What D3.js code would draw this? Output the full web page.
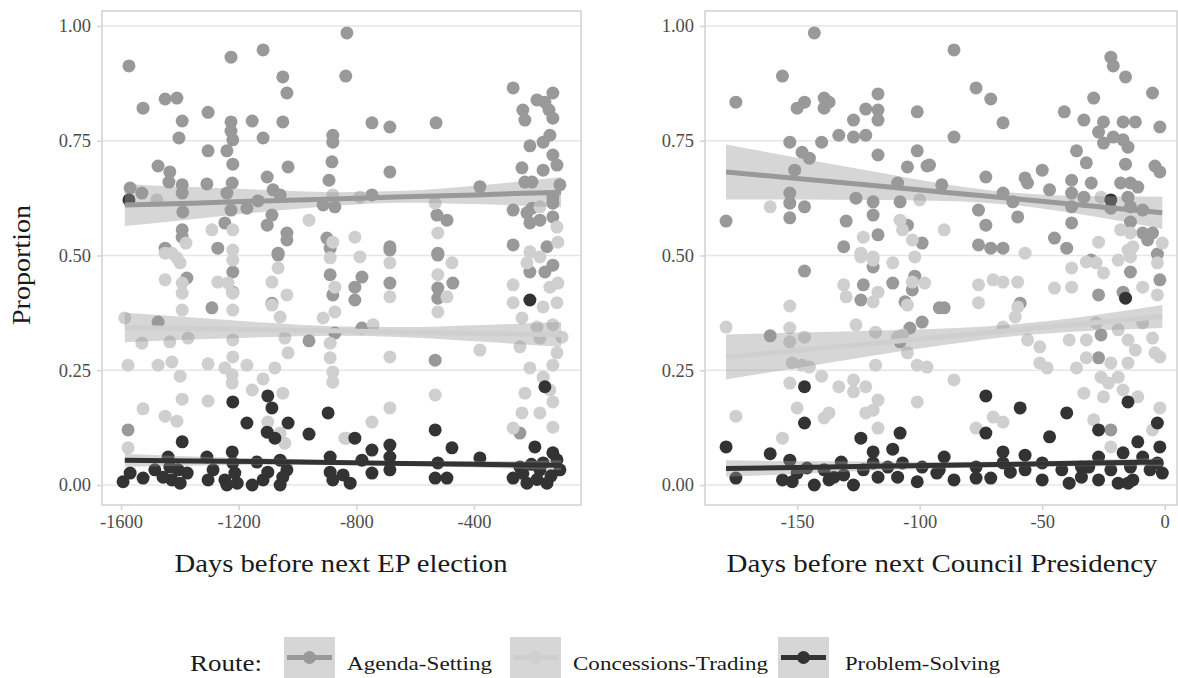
<!DOCTYPE html>
<html><head><meta charset="utf-8">
<script src="https://cdn.jsdelivr.net/npm/d3@7"></script>
<style>body{margin:0;background:#fff}svg{display:block}text{font-family:"Liberation Serif","DejaVu Serif",serif}</style>
</head><body><svg id="c" width="1178" height="678"></svg>
<script>
// ---------- data ----------
const routes = ["Agenda-Setting","Concessions-Trading","Problem-Solving"];
const yTicks = [0,0.25,0.5,0.75,1];
const yTickLabels = ["0.00","0.25","0.50","0.75","1.00"];
const epTicks = [-1600,-1200,-800,-400];
const epTickLabels = ["-1600","-1200","-800","-400"];
const cpTicks = [-150,-100,-50,0];
const cpTickLabels = ["-150","-100","-50","0"];

const epAgenda = [[-1573,0.913],[-1525,0.821],[-1450,0.841],[-1410,0.843],[-1226,0.932],[-1117,0.948],[-1050,0.889],[-1036,0.854],[-1304,0.812],[-1392,0.793],[-1403,0.756],[-1226,0.791],[-1226,0.771],[-1220,0.752],[-1154,0.793],[-1050,0.791],[-1117,0.756],[-1304,0.728],[-1240,0.728],[-1220,0.699],[-1474,0.695],[-1434,0.682],[-1437,0.660],[-1392,0.654],[-1392,0.636],[-1308,0.656],[-1222,0.658],[-1240,0.636],[-1103,0.671],[-1032,0.693],[-1083,0.643],[-1059,0.632],[-1134,0.619],[-1172,0.603],[-1569,0.647],[-1529,0.636],[-1390,0.595],[-1226,0.599],[-1087,0.588],[-1103,0.566],[-1392,0.556],[-1392,0.540],[-1247,0.571],[-1036,0.549],[-1036,0.534],[-1450,0.516],[-1271,0.516],[-1066,0.505],[-880,0.762],[-880,0.747],[-883,0.704],[-893,0.664],[-913,0.610],[-873,0.606],[-900,0.538],[-889,0.516],[-832,0.985],[-836,0.891],[-747,0.789],[-686,0.780],[-529,0.789],[-686,0.682],[-380,0.650],[-747,0.632],[-526,0.588],[-492,0.577],[-686,0.519],[-523,0.505],[-267,0.523],[-267,0.865],[-234,0.817],[-227,0.795],[-186,0.839],[-159,0.834],[-132,0.854],[-145,0.817],[-132,0.799],[-210,0.739],[-165,0.747],[-142,0.762],[-132,0.719],[-118,0.697],[-165,0.686],[-237,0.691],[-227,0.660],[-203,0.660],[-108,0.654],[-132,0.627],[-132,0.614],[-267,0.599],[-220,0.593],[-203,0.603],[-210,0.571],[-176,0.577],[-132,0.584],[-152,0.519],[-1066,0.501],[-889,0.458],[-880,0.414],[-1376,0.451],[-1220,0.464],[-1220,0.420],[-1087,0.396],[-1291,0.386],[-1474,0.355],[-961,0.314],[-1576,0.120],[-873,0.331],[-781,0.453],[-805,0.431],[-805,0.403],[-686,0.512],[-686,0.440],[-523,0.501],[-523,0.429],[-523,0.407],[-472,0.440],[-781,0.342],[-532,0.272],[-210,0.464],[-159,0.464],[-132,0.479],[-244,0.113]];
const epConc = [[-1478,0.621],[-961,0.577],[-1291,0.556],[-1220,0.556],[-1379,0.527],[-1220,0.512],[-880,0.632],[-880,0.529],[-1427,0.505],[-805,0.540],[-788,0.627],[-523,0.549],[-532,0.614],[-176,0.606],[-118,0.562],[-115,0.529],[-210,0.508],[-1450,0.505],[-1410,0.495],[-1399,0.484],[-1450,0.447],[-1392,0.440],[-1392,0.418],[-1271,0.442],[-1236,0.440],[-1220,0.490],[-1220,0.418],[-1087,0.442],[-1066,0.473],[-1087,0.392],[-1036,0.414],[-889,0.495],[-873,0.431],[-873,0.377],[-913,0.364],[-1392,0.381],[-1220,0.381],[-1059,0.366],[-1587,0.364],[-1529,0.309],[-1434,0.312],[-1372,0.320],[-1220,0.316],[-1043,0.320],[-889,0.309],[-1220,0.279],[-1032,0.288],[-889,0.277],[-1576,0.261],[-1474,0.261],[-1427,0.268],[-1304,0.264],[-1247,0.255],[-1172,0.261],[-1077,0.255],[-880,0.246],[-880,0.224],[-1399,0.237],[-1222,0.240],[-1222,0.222],[-1117,0.231],[-1154,0.207],[-1392,0.187],[-1304,0.183],[-1050,0.200],[-1525,0.166],[-1450,0.150],[-1410,0.139],[-1101,0.137],[-1059,0.113],[-1043,0.091],[-1576,0.081],[-832,0.102],[-788,0.497],[-686,0.484],[-686,0.410],[-523,0.458],[-475,0.484],[-492,0.410],[-523,0.377],[-743,0.349],[-686,0.279],[-380,0.294],[-532,0.196],[-686,0.168],[-747,0.137],[-839,0.102],[-267,0.436],[-267,0.397],[-220,0.484],[-176,0.497],[-142,0.431],[-115,0.440],[-118,0.397],[-165,0.388],[-237,0.364],[-186,0.344],[-132,0.349],[-101,0.322],[-244,0.301],[-176,0.320],[-118,0.288],[-210,0.255],[-132,0.261],[-165,0.235],[-142,0.207],[-227,0.200],[-132,0.181],[-237,0.157],[-176,0.157],[-132,0.126],[-267,0.124]];
const epProb = [[-1573,0.621],[-1220,0.181],[-1101,0.194],[-1087,0.168],[-1172,0.135],[-1032,0.135],[-896,0.157],[-1103,0.115],[-1077,0.102],[-961,0.111],[-1392,0.094],[-1593,0.007],[-1569,0.026],[-1525,0.015],[-1485,0.033],[-1457,0.017],[-1440,0.061],[-1434,0.039],[-1427,0.011],[-1406,0.033],[-1399,0.004],[-1375,0.026],[-1308,0.061],[-1304,0.011],[-1287,0.033],[-1247,0.011],[-1240,0.0],[-1222,0.072],[-1220,0.048],[-1213,0.026],[-1205,0.004],[-1154,0.0],[-1138,0.050],[-1117,0.011],[-1101,0.028],[-1059,0.054],[-1050,0.017],[-1036,0.033],[-1059,0.0],[-889,0.061],[-889,0.028],[-880,0.011],[-845,0.022],[-210,0.403],[-159,0.214],[-805,0.102],[-532,0.120],[-475,0.081],[-747,0.076],[-686,0.087],[-821,0.004],[-781,0.054],[-747,0.026],[-686,0.061],[-686,0.033],[-523,0.048],[-532,0.015],[-492,0.015],[-380,0.059],[-267,0.015],[-244,0.039],[-220,0.004],[-193,0.083],[-176,0.033],[-152,0.004],[-132,0.070],[-108,0.033],[-165,0.048],[-234,0.025],[-205,0.045],[-138,0.020],[-118,0.055],[-186,0.012]];

const cpAgenda = [[-143,0.985],[-156,0.891],[-175,0.834],[-150,0.821],[-147,0.834],[-139,0.843],[-137,0.834],[-139,0.821],[-117,0.852],[-122,0.819],[-117,0.817],[-117,0.795],[-127,0.795],[-133,0.762],[-127,0.758],[-122,0.762],[-101,0.813],[-153,0.747],[-140,0.747],[-148,0.725],[-145,0.712],[-117,0.719],[-101,0.728],[-105,0.693],[-97,0.695],[-151,0.686],[-109,0.658],[-153,0.636],[-153,0.614],[-147,0.606],[-153,0.582],[-126,0.625],[-119,0.617],[-119,0.588],[-108,0.617],[-179,0.575],[-130,0.575],[-117,0.545],[-131,0.519],[-99,0.527],[-105,0.566],[-86,0.948],[-77,0.865],[-71,0.841],[-66,0.789],[-86,0.758],[-96,0.697],[-91,0.654],[-73,0.671],[-57,0.669],[-56,0.658],[-50,0.686],[-47,0.643],[-66,0.636],[-62,0.617],[-60,0.584],[-76,0.599],[-73,0.566],[-76,0.523],[-71,0.516],[-66,0.516],[-45,0.538],[-40,0.516],[-41,0.813],[-29,0.843],[-33,0.795],[-22,0.932],[-21,0.913],[-16,0.889],[-5,0.854],[-2,0.780],[-17,0.791],[-12,0.791],[-25,0.791],[-27,0.769],[-25,0.745],[-21,0.758],[-17,0.752],[-15,0.736],[-36,0.728],[-32,0.702],[-16,0.699],[-4,0.695],[-2,0.682],[-38,0.664],[-38,0.636],[-30,0.658],[-33,0.627],[-18,0.658],[-14,0.658],[-11,0.649],[-15,0.627],[-14,0.606],[-38,0.606],[-38,0.571],[-22,0.603],[-9,0.599],[-14,0.573],[-9,0.549],[-5,0.549],[-7,0.534],[-147,0.466],[-123,0.436],[-124,0.403],[-119,0.475],[-111,0.440],[-102,0.455],[-103,0.425],[-106,0.399],[-161,0.325],[-104,0.342],[-99,0.355],[-108,0.312],[-92,0.386],[-90,0.386],[-59,0.396],[-27,0.414],[-27,0.277],[-26,0.327],[-17,0.420],[-14,0.464],[-2,0.447],[-22,0.120],[-3,0.503],[-30,0.490]];
const cpConc = [[-161,0.606],[-108,0.577],[-107,0.556],[-103,0.534],[-123,0.540],[-100,0.621],[-124,0.505],[-119,0.497],[-90,0.556],[-57,0.505],[-27,0.529],[-18,0.556],[-14,0.549],[-15,0.512],[-13,0.519],[-1,0.527],[-26,0.627],[-179,0.344],[-153,0.390],[-153,0.342],[-147,0.322],[-153,0.312],[-152,0.266],[-148,0.261],[-145,0.257],[-131,0.436],[-130,0.410],[-124,0.497],[-119,0.490],[-119,0.399],[-117,0.420],[-111,0.484],[-102,0.497],[-126,0.349],[-118,0.333],[-107,0.327],[-105,0.288],[-109,0.322],[-103,0.442],[-98,0.440],[-105,0.392],[-118,0.261],[-101,0.261],[-97,0.257],[-140,0.237],[-153,0.222],[-133,0.214],[-127,0.229],[-127,0.203],[-122,0.214],[-117,0.185],[-119,0.163],[-122,0.157],[-101,0.181],[-175,0.150],[-150,0.168],[-139,0.146],[-137,0.157],[-117,0.124],[-156,0.102],[-76,0.436],[-70,0.447],[-66,0.442],[-60,0.442],[-76,0.397],[-60,0.388],[-61,0.366],[-45,0.429],[-38,0.431],[-38,0.473],[-32,0.486],[-28,0.484],[-25,0.462],[-19,0.490],[-14,0.497],[-3,0.484],[-9,0.431],[-3,0.414],[-66,0.344],[-56,0.316],[-51,0.301],[-39,0.316],[-32,0.316],[-28,0.353],[-19,0.338],[-15,0.316],[-9,0.353],[-5,0.320],[-51,0.266],[-48,0.255],[-36,0.255],[-32,0.277],[-22,0.266],[-15,0.266],[-12,0.294],[-4,0.288],[-2,0.279],[-86,0.229],[-26,0.235],[-23,0.222],[-19,0.235],[-17,0.207],[-33,0.200],[-25,0.192],[-11,0.192],[-2,0.168],[-77,0.124],[-70,0.148],[-66,0.137],[-29,0.142],[-22,0.083],[-5,0.120]];
const cpProb = [[-22,0.621],[-147,0.214],[-147,0.135],[-179,0.083],[-161,0.068],[-124,0.102],[-108,0.113],[-119,0.072],[-111,0.078],[-175,0.015],[-156,0.011],[-153,0.054],[-150,0.026],[-146,0.037],[-143,0.0],[-137,0.011],[-132,0.050],[-127,0.0],[-131,0.022],[-123,0.033],[-119,0.048],[-117,0.017],[-113,0.039],[-109,0.017],[-107,0.048],[-101,0.007],[-99,0.039],[-93,0.026],[-152,0.007],[-139,0.033],[-135,0.017],[-73,0.194],[-59,0.168],[-40,0.157],[-16,0.407],[-15,0.181],[-73,0.113],[-47,0.105],[-27,0.120],[-3,0.135],[-11,0.094],[-2,0.083],[-66,0.072],[-90,0.061],[-92,0.033],[-86,0.011],[-77,0.039],[-77,0.015],[-71,0.015],[-66,0.048],[-63,0.028],[-57,0.065],[-57,0.033],[-50,0.048],[-50,0.011],[-42,0.033],[-39,0.004],[-34,0.017],[-31,0.039],[-27,0.061],[-27,0.011],[-22,0.033],[-19,0.004],[-17,0.070],[-14,0.039],[-13,0.011],[-9,0.061],[-6,0.033],[-3,0.048],[-1,0.026],[-15,0.004],[-34,0.039]];

// fitted lines and 95% bands
const epFitX = [-1587,-1357,-1117,-877,-637,-397,-104];
const epAgendaFit = [0.610,0.614,0.619,0.623,0.628,0.632,0.638];
const epAgendaHi  = [0.656,0.649,0.643,0.638,0.641,0.652,0.671];
const epAgendaLo  = [0.564,0.579,0.595,0.608,0.615,0.612,0.605];
const epConcFit = [0.343,0.341,0.338,0.336,0.333,0.330,0.328];
const epConcHi  = [0.375,0.365,0.354,0.346,0.344,0.348,0.355];
const epConcLo  = [0.311,0.317,0.322,0.325,0.322,0.313,0.301];
const epProbFit = [0.054,0.052,0.051,0.049,0.047,0.045,0.043];
const epProbHi  = [0.068,0.062,0.058,0.054,0.052,0.052,0.054];
const epProbLo  = [0.040,0.042,0.044,0.044,0.042,0.038,0.032];

const cpFitX = [-179,-150,-120,-90,-60,-30,-1];
const cpAgendaFit = [0.682,0.668,0.653,0.638,0.623,0.608,0.593];
const cpAgendaHi  = [0.742,0.713,0.684,0.656,0.636,0.629,0.628];
const cpAgendaLo  = [0.622,0.622,0.621,0.619,0.609,0.586,0.558];
const cpConcFit = [0.279,0.293,0.308,0.323,0.338,0.353,0.367];
const cpConcHi  = [0.328,0.332,0.336,0.341,0.351,0.369,0.392];
const cpConcLo  = [0.230,0.255,0.281,0.305,0.325,0.336,0.342];
const cpProbFit = [0.036,0.038,0.041,0.043,0.045,0.048,0.050];
const cpProbHi  = [0.054,0.052,0.051,0.050,0.051,0.055,0.059];
const cpProbLo  = [0.018,0.024,0.031,0.036,0.039,0.041,0.041];

// ---------- drawing ----------
const colors = {"Agenda-Setting":"#999999","Concessions-Trading":"#cfcfcf","Problem-Solving":"#333333"};
const svg = d3.select("#c");
const R = 6.5;

const panels = [
  {left:102,right:581,top:11,bottom:505, xdom:[-1664.6,-36.3], ticks:epTicks, tlabels:epTickLabels, title:"Days before next EP election", tlen:333, tx:341,
   pts:[epAgenda,epConc,epProb], fx:epFitX, fit:[epAgendaFit,epConcFit,epProbFit], hi:[epAgendaHi,epConcHi,epProbHi], lo:[epAgendaLo,epConcLo,epProbLo]},
  {left:705,right:1177,top:11,bottom:505, xdom:[-187.6,5.0], ticks:cpTicks, tlabels:cpTickLabels, title:"Days before next Council Presidency", tlen:431, tx:942,
   pts:[cpAgenda,cpConc,cpProb], fx:cpFitX, fit:[cpAgendaFit,cpConcFit,cpProbFit], hi:[cpAgendaHi,cpConcHi,cpProbHi], lo:[cpAgendaLo,cpConcLo,cpProbLo]}
];

panels.forEach((p,pi)=>{
  const x = d3.scaleLinear().domain(p.xdom).range([p.left,p.right]);
  const y = d3.scaleLinear().domain([-0.0436,1.0327]).range([p.bottom,p.top]);
  const g = svg.append("g");
  const clipId = "clip"+pi;
  svg.append("clipPath").attr("id",clipId).append("rect")
    .attr("x",p.left).attr("y",p.top).attr("width",p.right-p.left).attr("height",p.bottom-p.top);
  g.selectAll("line.grid").data(yTicks).join("line")
    .attr("x1",p.left).attr("x2",p.right).attr("y1",d=>y(d)).attr("y2",d=>y(d))
    .attr("stroke","#e6e6e6").attr("stroke-width",1.3);
  const pg = g.append("g").attr("clip-path",`url(#${clipId})`);
  p.pts.forEach((arr,si)=>{
    pg.append("g").selectAll("circle").data(arr).join("circle")
      .attr("cx",d=>x(d[0])).attr("cy",d=>y(d[1])).attr("r",R)
      .attr("fill",colors[routes[si]]);
  });
  routes.forEach((r,si)=>{
    const band = d3.area().x((d,i)=>x(p.fx[i])).y0((d,i)=>y(p.lo[si][i])).y1((d,i)=>y(p.hi[si][i])).curve(d3.curveMonotoneX);
    pg.append("path").datum(p.fx).attr("d",band).attr("fill","#999999").attr("fill-opacity",0.4);
    const line = d3.line().x((d,i)=>x(p.fx[i])).y((d,i)=>y(p.fit[si][i]));
    pg.append("path").datum(p.fx).attr("d",line).attr("fill","none")
      .attr("stroke",colors[r]).attr("stroke-width",5);
  });
  g.append("rect").attr("x",p.left).attr("y",p.top).attr("width",p.right-p.left).attr("height",p.bottom-p.top)
    .attr("fill","none").attr("stroke","#d4d4d4").attr("stroke-width",1.6);
  const xa = d3.axisBottom(x).tickValues(p.ticks).tickSize(5).tickPadding(5).tickFormat((d,i)=>p.tlabels[i]);
  const xg = g.append("g").attr("transform",`translate(0,${p.bottom})`).call(xa);
  xg.select(".domain").remove();
  xg.selectAll(".tick line").attr("stroke","#d4d4d4").attr("stroke-width",1.5);
  xg.selectAll(".tick text").attr("fill","#4d4d4d").attr("font-size",18.5).attr("font-family","Liberation Serif");
  const ya = d3.axisLeft(y).tickValues(yTicks).tickSize(5).tickPadding(6).tickFormat((d,i)=>yTickLabels[i]);
  const yg = g.append("g").attr("transform",`translate(${p.left},0)`).call(ya);
  yg.select(".domain").remove();
  yg.selectAll(".tick line").attr("stroke","#d4d4d4").attr("stroke-width",1.5);
  yg.selectAll(".tick text").attr("fill","#4d4d4d").attr("font-size",18.5).attr("font-family","Liberation Serif");
  svg.append("text").attr("x",p.tx).attr("y",572).attr("text-anchor","middle")
    .attr("font-size",26).attr("fill","#1a1a1a").attr("textLength",p.tlen).attr("lengthAdjust","spacingAndGlyphs").text(p.title);
});
svg.append("text").attr("transform","translate(30,265) rotate(-90)").attr("text-anchor","middle")
  .attr("font-size",25).attr("fill","#1a1a1a").attr("textLength",120).attr("lengthAdjust","spacingAndGlyphs").text("Proportion");

// legend
const lg = svg.append("g");
lg.append("text").attr("x",190).attr("y",671).attr("font-size",23).attr("fill","#1a1a1a")
  .attr("textLength",72).attr("lengthAdjust","spacingAndGlyphs").text("Route:");
const keyX = [284,510,778];
const labX = [347,573,845];
const labLen = [145,195,155];
routes.forEach((r,i)=>{
  lg.append("rect").attr("x",keyX[i]).attr("y",637).attr("width",51).attr("height",41).attr("fill","#d6d6d6");
  lg.append("line").attr("x1",keyX[i]+3).attr("x2",keyX[i]+48).attr("y1",657.5).attr("y2",657.5)
    .attr("stroke",colors[r]).attr("stroke-width",5);
  lg.append("circle").attr("cx",keyX[i]+25.5).attr("cy",657.5).attr("r",R).attr("fill",colors[r]);
  lg.append("text").attr("x",labX[i]).attr("y",670).attr("font-size",19).attr("fill","#1a1a1a")
    .attr("textLength",labLen[i]).attr("lengthAdjust","spacingAndGlyphs").text(r);
});
</script></body></html>
